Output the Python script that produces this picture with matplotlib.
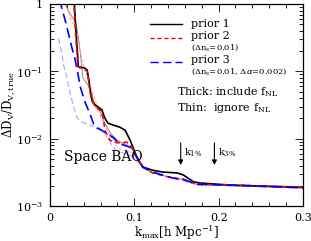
import matplotlib
matplotlib.use("Agg")
import matplotlib.pyplot as plt
from matplotlib.ticker import MultipleLocator, LogLocator, NullFormatter

plt.rcParams["font.family"] = "DejaVu Serif"
plt.rcParams["mathtext.fontset"] = "dejavuserif"

# thick lines: include f_NL
k_p1 = [0.026, 0.0288, 0.031, 0.0336, 0.0356, 0.0415, 0.044, 0.046, 0.048, 0.050, 0.0534,
        0.0613, 0.0652, 0.0688, 0.0747, 0.083, 0.089, 0.095, 0.1028, 0.110, 0.122, 0.134,
        0.151, 0.158, 0.170, 0.178, 0.2135, 0.30]
y_p1 = [2.0, 1.0, 0.35, 0.117, 0.116, 0.112, 0.105, 0.075, 0.048, 0.036, 0.032,
        0.027, 0.020, 0.017, 0.016, 0.0148, 0.0134, 0.0095, 0.0054, 0.0038, 0.0034, 0.0032,
        0.0031, 0.0029, 0.0023, 0.0022, 0.00205, 0.0019]

k_p2 = [0.025, 0.0282, 0.0305, 0.033, 0.035, 0.041, 0.044, 0.046, 0.048, 0.0505, 0.053,
        0.060, 0.063, 0.065, 0.071, 0.0795, 0.091, 0.097, 0.103, 0.110, 0.122, 0.146,
        0.158, 0.174, 0.2135, 0.30]
y_p2 = [2.0, 1.0, 0.33, 0.12, 0.113, 0.108, 0.10, 0.07, 0.045, 0.035, 0.031,
        0.026, 0.021, 0.0134, 0.0095, 0.0087, 0.0089, 0.0075, 0.0052, 0.0038, 0.0031, 0.0026,
        0.0025, 0.0021, 0.00205, 0.0019]

k_p3 = [0.010, 0.013, 0.0178, 0.0217, 0.0257, 0.0297, 0.0336, 0.0356, 0.0415, 0.047, 0.053,
        0.061, 0.067, 0.0747, 0.081, 0.0866, 0.095, 0.103, 0.110, 0.122, 0.146, 0.158,
        0.174, 0.2135, 0.30]
y_p3 = [2.5, 0.97, 0.58, 0.37, 0.23, 0.15, 0.085, 0.06, 0.035, 0.024, 0.0149,
        0.0134, 0.012, 0.0105, 0.0087, 0.0081, 0.0075, 0.0053, 0.0038, 0.0032, 0.0026, 0.0025,
        0.0021, 0.00205, 0.00187]

# thin lines: ignore f_NL
k_t1 = [0.016, 0.018, 0.022, 0.027, 0.031, 0.034, 0.036, 0.039, 0.045, 0.050, 0.053, 0.059,
        0.065, 0.072, 0.0795, 0.091, 0.098, 0.104, 0.110, 0.122, 0.146, 0.158, 0.174, 0.2135, 0.30]
y_t1 = [1.5, 1.0, 0.78, 0.62, 0.5, 0.3, 0.18, 0.08, 0.063, 0.045, 0.03, 0.026,
        0.017, 0.012, 0.0095, 0.0081, 0.0068, 0.0050, 0.0037, 0.0031, 0.0026, 0.0025, 0.0021, 0.002, 0.00185]

k_t2 = [0.015, 0.017, 0.021, 0.026, 0.030, 0.033, 0.037, 0.041, 0.045, 0.049, 0.053, 0.057,
        0.061, 0.066, 0.072, 0.081, 0.095, 0.104, 0.11, 0.122, 0.146, 0.174, 0.2135, 0.30]
y_t2 = [1.5, 1.1, 0.8, 0.55, 0.45, 0.3, 0.17, 0.11, 0.075, 0.055, 0.04, 0.028,
        0.02, 0.015, 0.011, 0.0072, 0.0063, 0.0048, 0.0037, 0.0031, 0.0026, 0.0021, 0.002, 0.00185]

k_t3 = [0.0099, 0.0139, 0.0166, 0.0198, 0.0237, 0.0273, 0.0317, 0.0356, 0.0415, 0.047, 0.059,
        0.065, 0.072, 0.078, 0.083, 0.095, 0.102, 0.11, 0.122, 0.146, 0.174, 0.2135, 0.30]
y_t3 = [0.31, 0.19, 0.116, 0.083, 0.048, 0.032, 0.021, 0.018, 0.017, 0.016, 0.0145,
        0.012, 0.0085, 0.0068, 0.0063, 0.0057, 0.0048, 0.0037, 0.0031, 0.0026, 0.0021, 0.002, 0.00185]

k_1pct = 0.155
k_3pct = 0.195

fig = plt.figure(figsize=(3.11, 2.41), dpi=100)
ax = fig.add_axes([0.161, 0.145, 0.813, 0.838])

ax.plot(k_t1, y_t1, color="#8c8c8c", lw=0.7)
ax.plot(k_t2, y_t2, color="#ff9a9a", lw=0.7, dashes=(3, 2))
ax.plot(k_t3, y_t3, color="#9a9aff", lw=0.7, dashes=(6, 3))
ax.plot(k_p1, y_p1, color="black", lw=1.2)
ax.plot(k_p2, y_p2, color="red", lw=1.2, dashes=(3, 2))
ax.plot(k_p3, y_p3, color="blue", lw=1.2, dashes=(6, 3))

ax.set_yscale("log")
ax.set_xlim(0, 0.3)
ax.set_ylim(1e-3, 1)
ax.xaxis.set_major_locator(MultipleLocator(0.1))
ax.xaxis.set_minor_locator(MultipleLocator(0.02))
ax.yaxis.set_major_locator(LogLocator(base=10))
ax.yaxis.set_minor_locator(LogLocator(base=10, subs=range(2, 10)))
ax.yaxis.set_minor_formatter(NullFormatter())
ax.set_xticks([0, 0.1, 0.2, 0.3])
ax.set_xticklabels(["0", "0.1", "0.2", "0.3"])
ax.set_yticks([1e-3, 1e-2, 1e-1, 1])
ax.set_yticklabels([r"$10^{-3}$", r"$10^{-2}$", r"$10^{-1}$", "1"])
ax.tick_params(which="both", direction="in", top=True, right=True, labelsize=8, width=0.6)
ax.tick_params(which="major", length=6, pad=5)
ax.tick_params(which="minor", length=3)
for s in ax.spines.values():
    s.set_linewidth(0.9)

ax.set_xlabel(r"k$_{\rm max}$[h Mpc$^{-1}$]", fontsize=8.5, labelpad=0)
ax.set_ylabel(r"$\Delta$D$_{\rm V}$/D$_{\rm V,true}$", fontsize=8.5, labelpad=0)

# legend drawn by hand like the original
ax.plot([0.119, 0.156], [0.50, 0.50], color="black", lw=1.0)
ax.plot([0.119, 0.156], [0.31, 0.31], color="red", lw=1.0, dashes=(3, 2))
ax.plot([0.119, 0.156], [0.138, 0.138], color="blue", lw=1.0, dashes=(6, 3))
ax.text(0.167, 0.50, "prior 1", fontsize=8, va="center")
ax.text(0.167, 0.34, "prior 2", fontsize=8, va="center")
ax.text(0.167, 0.222, r"($\Delta$n$_{\rm s}$=0.01)", fontsize=6, va="center")
ax.text(0.167, 0.147, "prior 3", fontsize=8, va="center")
ax.text(0.167, 0.100, r"($\Delta$n$_{\rm s}$=0.01, $\Delta\alpha$=0.002)", fontsize=6, va="center")
ax.text(0.151, 0.049, r"Thick: include f$_{\rm NL}$", fontsize=8, va="center")
ax.text(0.151, 0.0285, r"Thin:  ignore f$_{\rm NL}$", fontsize=8, va="center")

ax.text(0.063, 0.0053, "Space BAO", fontsize=10, ha="center", va="center")

for kk, lab in [(k_1pct, r"k$_{1\%}$"), (k_3pct, r"k$_{3\%}$")]:
    ax.annotate("", xy=(kk, 0.0037), xytext=(kk, 0.0095),
                arrowprops=dict(arrowstyle="-|>", color="black", lw=0.8, mutation_scale=7))
    ax.text(kk + 0.004, 0.0062, lab, fontsize=7, va="center")

fig.savefig("out.png", dpi=100)
